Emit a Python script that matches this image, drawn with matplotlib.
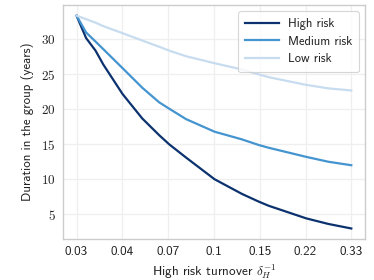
import numpy as np
import matplotlib
matplotlib.use("Agg")
import matplotlib.pyplot as plt
from matplotlib.ticker import FixedLocator, FixedFormatter, NullLocator

plt.rcParams['mathtext.fontset'] = 'cm'
plt.rcParams['font.family'] = ['cmss10', 'DejaVu Sans']
plt.rcParams['axes.formatter.use_mathtext'] = True

turnover = [0.03, 0.0326, 0.0354, 0.0379, 0.0448, 0.0532, 0.0617, 0.0673,
            0.078, 0.1, 0.127, 0.147, 0.1605, 0.2225, 0.27, 0.33]
high_risk = [33.4, 30.2, 28.4, 26.4, 22.2, 18.7, 16.3, 15.0,
             13.1, 10.0, 7.9, 6.8, 6.2, 4.4, 3.6, 2.95]
medium_risk = [33.4, 31.0, 29.7, 28.6, 25.9, 23.1, 21.0, 20.1,
               18.6, 16.8, 15.7, 14.9, 14.5, 13.2, 12.5, 12.0]
low_risk = [33.4, 32.9, 32.4, 31.9, 30.9, 29.85, 28.95, 28.4,
            27.6, 26.6, 25.7, 25.0, 24.6, 23.5, 23.0, 22.7]
xtick_labels = ['0.03', '0.04', '0.07', '0.1', '0.15', '0.22', '0.33']
yticks = [5, 10, 15, 20, 25, 30]

fig = plt.figure(figsize=(3.74, 2.80), dpi=100)
ax = fig.add_axes([0.168, 0.146, 0.808, 0.836])

ax.plot(turnover, high_risk, color='#0b326e', lw=1.6, label='High risk')
ax.plot(turnover, medium_risk, color='#4494d0', lw=1.6, label='Medium risk')
ax.plot(turnover, low_risk, color='#c8dcf0', lw=1.6, label='Low risk')

ax.set_xscale('log')
xt = np.geomspace(turnover[0], turnover[-1], len(xtick_labels))
ax.xaxis.set_major_locator(FixedLocator(xt))
ax.xaxis.set_major_formatter(FixedFormatter(xtick_labels))
ax.xaxis.set_minor_locator(NullLocator())
ax.set_yticks(yticks)
ax.set_yticklabels([f'${v}$' for v in yticks])

ax.grid(True, color='#efefef', lw=0.9)
ax.set_axisbelow(True)
for s in ax.spines.values():
    s.set_color('#cccccc')
    s.set_linewidth(1.0)
ax.tick_params(length=0, labelsize=9.5, pad=5, colors='#222222')

ax.set_xlabel(r'High risk turnover $\delta_H^{-1}$', fontsize=9.5, color='#222222', labelpad=3)
ax.set_ylabel('Duration in the group (years)', fontsize=9.3, color='#222222', labelpad=5)

leg = ax.legend(loc='upper right', fontsize=9, frameon=True, fancybox=True,
                handlelength=2.7, handletextpad=0.7, borderpad=0.55, labelspacing=0.45)
leg.get_frame().set_edgecolor('#cccccc')
leg.get_frame().set_linewidth(0.8)
for t in leg.get_texts():
    t.set_color('#222222')

fig.savefig('out.png', dpi=100)
